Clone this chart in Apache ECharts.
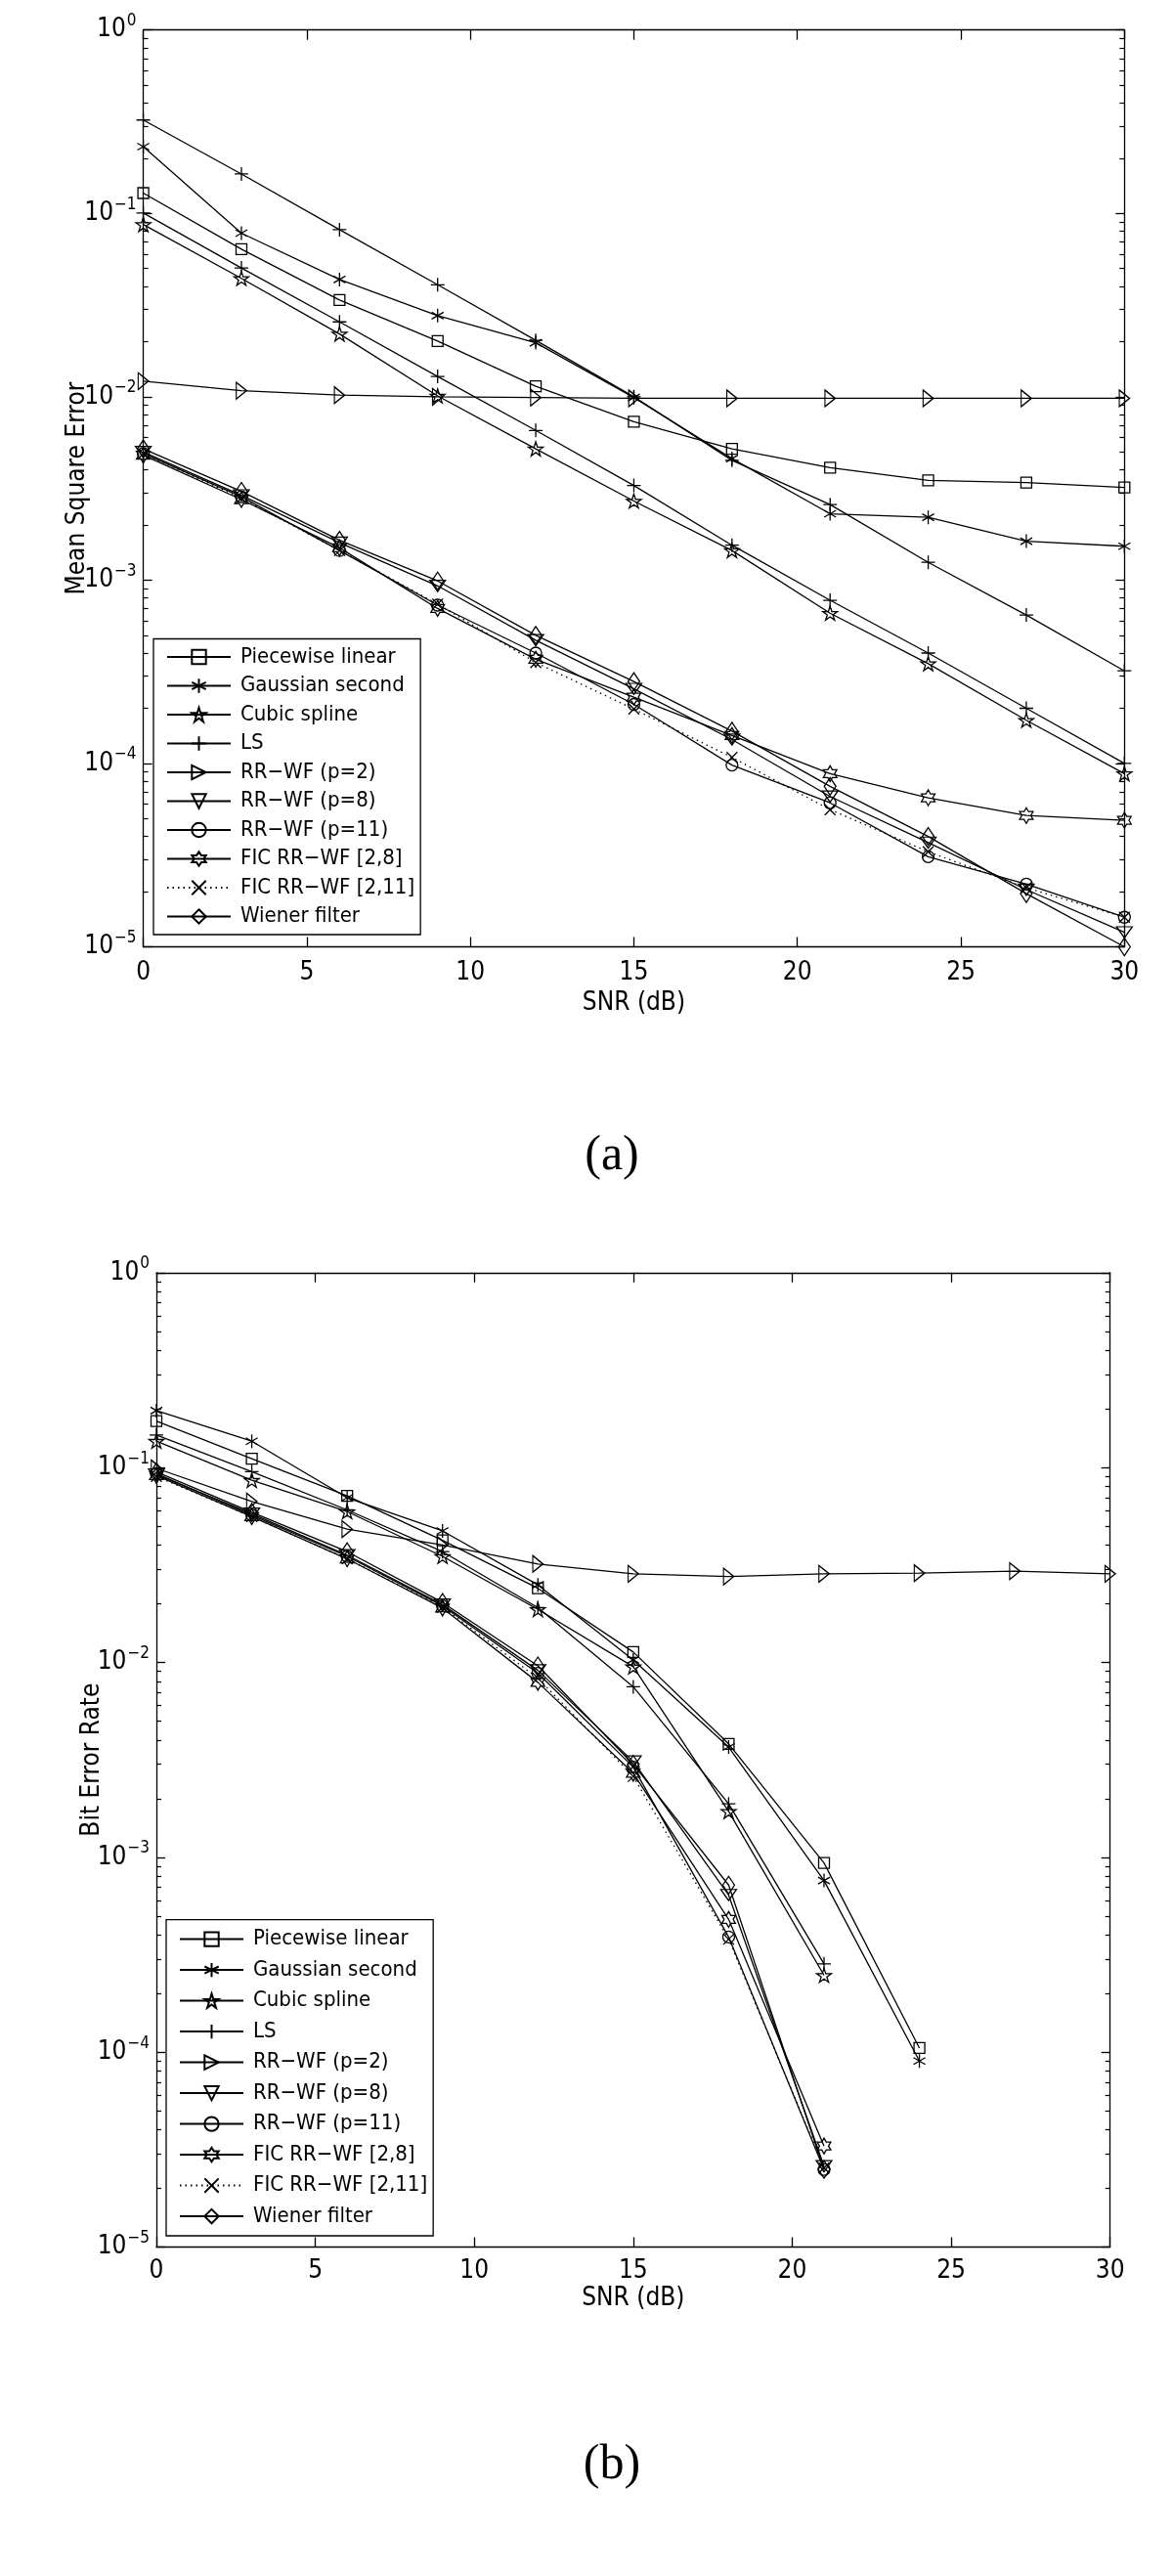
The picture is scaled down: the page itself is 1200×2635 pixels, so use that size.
<!DOCTYPE html>
<html><head><meta charset="utf-8">
<script src="https://cdn.jsdelivr.net/npm/echarts@6/dist/echarts.min.js"></script>
<style>html,body{margin:0;padding:0;background:#fff}#c{width:1200px;height:2635px}</style>
</head><body><div id="c"></div>
<script>
// ---------------- data ----------------
const snr = [0, 3, 6, 9, 12, 15, 18, 21, 24, 27, 30];
const legendNames = ['Piecewise linear', 'Gaussian second', 'Cubic spline', 'LS',
  'RR\u2212WF (p=2)', 'RR\u2212WF (p=8)', 'RR\u2212WF (p=11)',
  'FIC RR\u2212WF [2,8]', 'FIC RR\u2212WF [2,11]', 'Wiener filter'];
const yMajorTicks = [1e-5, 1e-4, 1e-3, 1e-2, 1e-1, 1];
const yMinorMultipliers = [2, 3, 4, 5, 6, 7, 8, 9];
const xTicks = [0, 5, 10, 15, 20, 25, 30];

// (a) Mean Square Error
const msePiecewise = [0.129, 0.0638, 0.0337, 0.0201, 0.0114, 0.0073, 0.0052, 0.0041, 0.0035, 0.0034, 0.0032];
const mseGaussian  = [0.231, 0.078, 0.0436, 0.0277, 0.0197, 0.0099, 0.0046, 0.0023, 0.0022, 0.00163, 0.00153];
const mseCubic     = [0.087, 0.0442, 0.022, 0.0101, 0.0052, 0.0027, 0.00145, 0.00066, 0.00035, 0.000172, 0.000088];
const mseLS        = [0.323, 0.164, 0.0815, 0.0408, 0.0203, 0.0100, 0.0045, 0.00258, 0.00125, 0.000645, 0.00032];
const mseLS2       = [0.1005, 0.0504, 0.0256, 0.0129, 0.00655, 0.00328, 0.00155, 0.000776, 0.0004, 0.0002, 0.0001];
const mseRR2       = [0.01217, 0.0108, 0.0102, 0.0100, 0.0099, 0.0098, 0.0098, 0.0098, 0.0098, 0.0098, 0.0098];
const mseRR8       = [5.0e-3, 2.9e-3, 1.6e-3, 9.3e-4, 4.7e-4, 2.55e-4, 1.35e-4, 6.6e-5, 3.7e-5, 2.05e-5, 1.2e-5];
const mseRR11      = [4.9e-3, 2.85e-3, 1.45e-3, 7.3e-4, 4.0e-4, 2.1e-4, 9.8e-5, 6.1e-5, 3.1e-5, 2.2e-5, 1.45e-5];
const mseFIC28     = [4.8e-3, 2.75e-3, 1.5e-3, 7.0e-4, 3.7e-4, 2.3e-4, 1.42e-4, 8.8e-5, 6.5e-5, 5.2e-5, 4.9e-5];
const mseFIC211    = [4.9e-3, 2.8e-3, 1.45e-3, 7.4e-4, 3.55e-4, 1.98e-4, 1.08e-4, 5.6e-5, 3.3e-5, 2.1e-5, 1.45e-5];
const mseWiener    = [5.2e-3, 3.05e-3, 1.65e-3, 9.9e-4, 5.0e-4, 2.8e-4, 1.5e-4, 7.5e-5, 4.0e-5, 1.95e-5, 1.0e-5];

// (b) Bit Error Rate (null = no errors measured)
const berPiecewise = [0.173, 0.111, 0.0715, 0.0423, 0.024, 0.0113, 0.00382, 0.000935, 0.000105, null, null];
const berGaussian  = [0.196, 0.1365, 0.070, 0.0473, 0.025, 0.0103, 0.00368, 0.00076, 0.00009, null, null];
const berCubic     = [0.1365, 0.086, 0.0594, 0.035, 0.0187, 0.0095, 0.00172, 0.000248, null, null, null];
const berLS        = [0.147, 0.0953, 0.0606, 0.037, 0.0191, 0.0075, 0.00188, 0.000284, null, null, null];
const berRR2       = [0.099, 0.067, 0.0483, 0.040, 0.032, 0.0285, 0.0276, 0.0285, 0.0287, 0.0294, 0.0285];
const berRR8       = [0.092, 0.058, 0.0355, 0.0198, 0.0091, 0.0031, 0.00064, 0.000026, null, null, null];
const berRR11      = [0.093, 0.057, 0.035, 0.0195, 0.0088, 0.0029, 0.00039, 0.000025, null, null, null];
const berFIC28     = [0.091, 0.056, 0.034, 0.019, 0.0079, 0.0027, 0.00048, 0.000033, null, null, null];
const berFIC211    = [0.090, 0.056, 0.034, 0.0192, 0.0083, 0.0026, 0.00038, 0.0000255, null, null, null];
const berWiener    = [0.095, 0.059, 0.037, 0.0203, 0.0096, 0.0030, 0.00072, 0.000025, null, null, null];

// ---------------- styles ----------------
const F = '"Liberation Sans Narrow", "Arial Narrow", "DejaVu Sans Condensed", "Liberation Sans", sans-serif';
function starPath(n, r1, r2) {
  let d = '';
  for (let i = 0; i < 2 * n; i++) {
    const a = -Math.PI / 2 + i * Math.PI / n;
    const r = i % 2 === 0 ? r1 : r2;
    d += (i === 0 ? 'M' : 'L') + (r * Math.cos(a)).toFixed(4) + ',' + (r * Math.sin(a)).toFixed(4);
  }
  return d + 'Z';
}
const SYM = {
  square: ['rect', 11],
  asterisk: ['path://M0,-1L0,1M-0.866,-0.5L0.866,0.5M-0.866,0.5L0.866,-0.5', 14],
  pentagram: ['path://' + starPath(5, 1, 0.382), 15],
  plus: ['path://M0,-1L0,1M-1,0L1,0', 14],
  triRight: ['path://M-0.75,-1L1,0L-0.75,1Z', [12, 17]],
  triDown: ['path://M-1,-0.75L1,-0.75L0,1Z', [16, 13]],
  circle: ['circle', 12],
  hexagram: ['path://' + starPath(6, 1, 0.577), 16],
  cross: ['path://M-1,-1L1,1M-1,1L1,-1', 11],
  diamond: ['diamond', [12, 18]]
};

function mkSeries(name, vals, sym, ax, dotted) {
  return {
    type: 'line', name: name,
    xAxisIndex: ax.x, yAxisIndex: ax.y,
    data: snr.map((x, i) => [x, vals[i]]).filter(p => p[1] !== null),
    symbol: SYM[sym][0], symbolSize: SYM[sym][1], symbolKeepAspect: true,
    showSymbol: true, clip: false, silent: true,
    lineStyle: { color: '#000', width: 1.3, type: dotted ? [1.5, 4] : 'solid' },
    itemStyle: { color: 'rgba(0,0,0,0)', borderColor: '#000', borderWidth: 1.3 },
    emphasis: { disabled: true }
  };
}

const yMinorTicks = [];
for (let k = -5; k < 0; k++) yMinorMultipliers.forEach(m => yMinorTicks.push(m * Math.pow(10, k)));

const axLine = { show: true, lineStyle: { color: '#000', width: 1.3 } };
function xAxes(gi, labelMargin, nameGap) {
  return [{
    gridIndex: gi, type: 'value', min: 0, max: 30, interval: 5, position: 'bottom',
    axisLine: axLine,
    axisTick: { inside: true, length: 10, customValues: xTicks, lineStyle: { color: '#000', width: 1.3 } },
    axisLabel: { customValues: xTicks, fontSize: 26, fontFamily: F, color: '#000', margin: labelMargin },
    splitLine: { show: false },
    name: 'SNR (dB)', nameLocation: 'middle', nameGap: nameGap, nameMoveOverlap: false,
    nameTextStyle: { fontSize: 26, fontFamily: F, color: '#000' }
  }, {
    gridIndex: gi, type: 'value', min: 0, max: 30, interval: 5, position: 'top',
    axisLine: axLine,
    axisTick: { inside: true, length: 10, customValues: xTicks, lineStyle: { color: '#000', width: 1.3 } },
    axisLabel: { show: false }, splitLine: { show: false }
  }];
}
function yAxes(gi, name, nameGap) {
  const base = { gridIndex: gi, type: 'log', logBase: 10, min: 1e-5, max: 1, splitLine: { show: false } };
  return [
    Object.assign({}, base, {
      position: 'left', axisLine: axLine,
      axisTick: { inside: true, length: 9, customValues: yMajorTicks, lineStyle: { color: '#000', width: 1.3 } },
      axisLabel: {
        customValues: yMajorTicks, margin: 7,
        formatter: v => {
          const e = Math.round(Math.log10(v));
          return '{b|10}{s|' + (e < 0 ? '\u2212' + (-e) : String(e)) + '}';
        },
        rich: {
          b: { fontSize: 26, fontFamily: F, color: '#000' },
          s: { fontSize: 17, fontFamily: F, color: '#000', padding: [0, 0, 18, 1] }
        }
      },
      name: name, nameLocation: 'middle', nameGap: nameGap, nameRotate: 90, nameMoveOverlap: false,
      nameTextStyle: { fontSize: 26, fontFamily: F, color: '#000' }
    }),
    Object.assign({}, base, {
      position: 'left', axisLine: { show: false },
      axisTick: { inside: true, length: 5, customValues: yMinorTicks, lineStyle: { color: '#000', width: 1.2 } },
      axisLabel: { show: false }
    }),
    Object.assign({}, base, {
      position: 'right', axisLine: axLine,
      axisTick: { inside: true, length: 9, customValues: yMajorTicks, lineStyle: { color: '#000', width: 1.3 } },
      axisLabel: { show: false }
    }),
    Object.assign({}, base, {
      position: 'right', axisLine: { show: false },
      axisTick: { inside: true, length: 5, customValues: yMinorTicks, lineStyle: { color: '#000', width: 1.2 } },
      axisLabel: { show: false }
    })
  ];
}
function legendCfg(left, top, gap, padTop) {
  return {
    data: legendNames, orient: 'vertical', left: left, top: top,
    itemWidth: 65, itemHeight: 18, itemGap: gap,
    padding: [padTop, 6, padTop, 13],
    borderColor: '#000', borderWidth: 1.3, backgroundColor: '#fff',
    selectedMode: false,
    textStyle: { fontSize: 22, fontFamily: F, color: '#000', lineHeight: 14, padding: [0, 0, 0, 5] }
  };
}

const A = { x: 0, y: 0 }, B = { x: 2, y: 4 };
const series = [
  mkSeries(legendNames[0], msePiecewise, 'square', A),
  mkSeries(legendNames[1], mseGaussian, 'asterisk', A),
  mkSeries(legendNames[2], mseCubic, 'pentagram', A),
  mkSeries(legendNames[3], mseLS, 'plus', A),
  mkSeries('LS (second curve)', mseLS2, 'plus', A),
  mkSeries(legendNames[4], mseRR2, 'triRight', A),
  mkSeries(legendNames[5], mseRR8, 'triDown', A),
  mkSeries(legendNames[6], mseRR11, 'circle', A),
  mkSeries(legendNames[7], mseFIC28, 'hexagram', A),
  mkSeries(legendNames[8], mseFIC211, 'cross', A, true),
  mkSeries(legendNames[9], mseWiener, 'diamond', A),

  mkSeries(legendNames[0], berPiecewise, 'square', B),
  mkSeries(legendNames[1], berGaussian, 'asterisk', B),
  mkSeries(legendNames[2], berCubic, 'pentagram', B),
  mkSeries(legendNames[3], berLS, 'plus', B),
  mkSeries(legendNames[4], berRR2, 'triRight', B),
  mkSeries(legendNames[5], berRR8, 'triDown', B),
  mkSeries(legendNames[6], berRR11, 'circle', B),
  mkSeries(legendNames[7], berFIC28, 'hexagram', B),
  mkSeries(legendNames[8], berFIC211, 'cross', B, true),
  mkSeries(legendNames[9], berWiener, 'diamond', B)
];

const chart = echarts.init(document.getElementById('c'), null, { renderer: 'canvas' });
chart.setOption({
  animation: false,
  backgroundColor: '#fff',
  grid: [
    { left: 146.6, top: 30.7, width: 1003.7, height: 937.8 },
    { left: 160, top: 1301.8, width: 975.7, height: 996.7 }
  ],
  xAxis: xAxes(0, 14, 45).concat(xAxes(1, 12, 40)),
  yAxis: yAxes(0, 'Mean Square Error', 54).concat(yAxes(1, 'Bit Error Rate', 53)),
  legend: [legendCfg(157, 653.5, 7.5, 7.5), legendCfg(170, 1963.7, 9.5, 8.9)],
  series: series,
  graphic: [
    { type: 'text', x: 626, y: 1183, style: { text: '(a)', font: '50px "Liberation Serif", serif', fill: '#000', align: 'center', verticalAlign: 'middle' } },
    { type: 'text', x: 626, y: 2522, style: { text: '(b)', font: '50px "Liberation Serif", serif', fill: '#000', align: 'center', verticalAlign: 'middle' } }
  ]
});
</script></body></html>
